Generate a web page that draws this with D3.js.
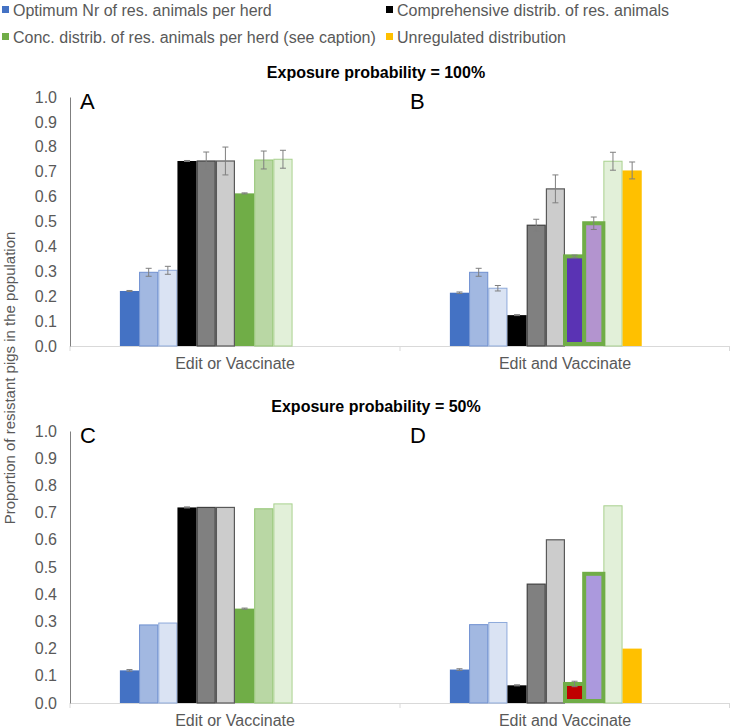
<!DOCTYPE html>
<html><head><meta charset="utf-8">
<script src="https://cdn.jsdelivr.net/npm/d3@7"></script>
<style>
body{margin:0;background:#fff}
svg{display:block}
text{font-family:"Liberation Sans",Arial,sans-serif}
</style>
</head><body>
<svg id="chart" width="730" height="728"></svg>
<script>
// ---------------- DATA ----------------
const categories = ["Edit or Vaccinate", "Edit and Vaccinate"];
const exposureTitles = ["Exposure probability = 100%", "Exposure probability = 50%"];
const panelLetters = ["A", "B", "C", "D"];
const yTickValues = [0, 0.1, 0.2, 0.3, 0.4, 0.5, 0.6, 0.7, 0.8, 0.9, 1.0];
const yTitle = "Proportion of resistant pigs in the population";

const legendLabels = [
  "Optimum Nr of res. animals per herd",
  "Comprehensive distrib. of res. animals",
  "Conc. distrib. of res. animals per herd (see caption)",
  "Unregulated distribution"
];
const legendColors = ["#4472c4", "#000000", "#70ad47", "#ffc000"];

// bar styles per slot (slot order within a category)
const slotsEditOr       = ["blue", "lblue", "llblue", "black", "gray", "lgray", "green", "lgreen", "llgreen"];
const slotsEditAnd100   = ["blue", "lblue", "llblue", "black", "gray", "lgray", "purple", "lavender", "llgreen", "yellow"];
const slotsEditAnd50    = ["blue", "lblue", "llblue", "black", "gray", "lgray", "red", "lavender2", "llgreen", "yellow"];

// Panel A: exposure 100%, Edit or Vaccinate
const valuesA = [0.221, 0.296, 0.304, 0.743, 0.743, 0.743, 0.613, 0.747, 0.750];
const errorsA = [0.002, 0.016, 0.016, 0.002, 0.036, 0.056, 0.002, 0.036, 0.036];
// Panel B: exposure 100%, Edit and Vaccinate
const valuesB = [0.214, 0.296, 0.232, 0.124, 0.485, 0.631, 0.360, 0.493, 0.742, 0.705];
const errorsB = [0.003, 0.016, 0.011, 0.002, 0.024, 0.056, 0.005, 0.025, 0.036, 0.034];
// Panel C: exposure 50%, Edit or Vaccinate
const valuesC = [0.120, 0.287, 0.294, 0.719, 0.719, 0.719, 0.347, 0.714, 0.732];
const errorsC = [0.003, null, null, 0.002, null, null, 0.002, null, null];
// Panel D: exposure 50%, Edit and Vaccinate
const valuesD = [0.123, 0.288, 0.296, 0.065, 0.437, 0.600, 0.070, 0.475, 0.725, 0.200];
const errorsD = [0.003, null, null, 0.002, null, null, 0.010, null, null, null];

const styles = {
  blue:      {fill: "#4472c4", stroke: "none", sw: 0},
  lblue:     {fill: "#a2b8e1", stroke: "#6f90d0", sw: 1},
  llblue:    {fill: "#dae3f3", stroke: "#8eaadb", sw: 1},
  black:     {fill: "#000000", stroke: "none", sw: 0},
  gray:      {fill: "#808080", stroke: "#404040", sw: 1.2},
  lgray:     {fill: "#cccccc", stroke: "#595959", sw: 1.2},
  green:     {fill: "#70ad47", stroke: "none", sw: 0},
  lgreen:    {fill: "#b9d7a4", stroke: "#92c472", sw: 1},
  llgreen:   {fill: "#e2f0d9", stroke: "#a9d18e", sw: 1},
  purple:    {fill: "#5a33b4", stroke: "#70ad47", sw: 4},
  lavender:  {fill: "#b394cf", stroke: "#70ad47", sw: 4},
  red:       {fill: "#c00000", stroke: "#70ad47", sw: 4},
  lavender2: {fill: "#ab99dd", stroke: "#70ad47", sw: 4},
  yellow:    {fill: "#ffc000", stroke: "none", sw: 0}
};

// ---------------- LAYOUT ----------------
const svg = d3.select("#chart");
const plotLeft = 70, plotRight = 730;
const rows = [
  {top: 97, base: 346, title: 72, panels: [
    {letter: "A", slots: slotsEditOr, values: valuesA, errors: errorsA},
    {letter: "B", slots: slotsEditAnd100, values: valuesB, errors: errorsB}]},
  {top: 431, base: 703, title: 406, panels: [
    {letter: "C", slots: slotsEditOr, values: valuesC, errors: errorsC},
    {letter: "D", slots: slotsEditAnd50, values: valuesD, errors: errorsD}]}
];

const x = d3.scaleBand(categories, [plotLeft, plotRight]).paddingInner(0).paddingOuter(0);
const xi = d3.scaleBand(d3.range(12), [0, x.bandwidth()]).paddingInner(0).paddingOuter(2.6);

const textCol = "#595959";
const FS = 16;

// legend
const legendPos = [[2, 10], [386, 10], [2, 37], [386, 37]];
legendLabels.forEach((lab, i) => {
  const [lx, ly] = legendPos[i];
  svg.append("rect").attr("x", lx).attr("y", ly - 4).attr("width", 7).attr("height", 7)
    .attr("fill", legendColors[i]);
  svg.append("text").attr("x", lx + 11).attr("y", ly).attr("dy", "0.35em")
    .attr("font-size", FS).attr("fill", textCol).text(lab);
});

rows.forEach((row, ri) => {
  const y = d3.scaleLinear([0, 1], [row.base, row.top]);
  const g = svg.append("g");

  // title
  g.append("text").attr("x", 376).attr("y", row.title).attr("dy", "0.35em")
    .attr("text-anchor", "middle").attr("font-size", FS).attr("font-weight", "bold")
    .attr("fill", "#000").text(exposureTitles[ri]);

  // x axis (category labels)
  const xAxis = g.append("g").attr("transform", `translate(0,${row.base})`)
    .call(d3.axisBottom(x).tickSize(0).tickPadding(12));
  xAxis.select(".domain").attr("stroke", "#d9d9d9").attr("stroke-width", 1);
  xAxis.selectAll("text").attr("font-size", FS).attr("fill", textCol)
    .attr("font-family", "Liberation Sans, Arial, sans-serif");
  // between-category tick marks
  [plotLeft, x(categories[1]), plotRight - 0.5].forEach(tx => {
    g.append("line").attr("x1", tx).attr("x2", tx).attr("y1", row.base).attr("y2", row.base + 5)
      .attr("stroke", "#d9d9d9");
  });

  // y axis
  const yAxis = g.append("g").attr("transform", `translate(${plotLeft},0)`)
    .call(d3.axisLeft(y).tickValues(yTickValues).tickFormat(d3.format(".1f")).tickSize(0).tickPadding(13));
  yAxis.select(".domain").attr("stroke", "#7f7f7f").attr("stroke-width", 1);
  yAxis.selectAll("text").attr("font-size", FS).attr("fill", textCol)
    .attr("font-family", "Liberation Sans, Arial, sans-serif");

  row.panels.forEach((p, pi) => {
    const cx = x(categories[pi]);
    // panel letter
    g.append("text").attr("x", cx + 10).attr("y", row.top + 4).attr("dy", "0.35em")
      .attr("font-size", 22).attr("fill", "#000").text(p.letter);

    const bars = p.values.map((v, i) => ({v, e: p.errors[i], s: styles[p.slots[i]], i}));
    const order = bars.slice().sort((a, b) => (a.s.sw >= 4) - (b.s.sw >= 4));
    g.selectAll(null).data(order).join("rect")
      .attr("x", d => cx + xi(d.i) + (d.s.sw > 0 && d.s.sw < 4 ? d.s.sw / 2 : 0))
      .attr("width", d => xi.bandwidth() - (d.s.sw > 0 && d.s.sw < 4 ? d.s.sw : 0))
      .attr("y", d => y(d.v))
      .attr("height", d => y(0) - y(d.v) - (d.s.sw >= 4 ? d.s.sw / 2 : 0))
      .attr("fill", d => d.s.fill)
      .attr("stroke", d => d.s.stroke)
      .attr("stroke-width", d => d.s.sw);

    // error bars
    const eb = bars.filter(d => d.e != null);
    const ebG = g.selectAll(null).data(eb).join("g")
      .attr("transform", d => `translate(${cx + xi(d.i) + xi.bandwidth() / 2},0)`);
    ebG.append("line").attr("y1", d => y(d.v - d.e)).attr("y2", d => y(d.v + d.e))
      .attr("stroke", "#7f7f7f").attr("stroke-width", 1);
    ebG.append("line").attr("x1", -3).attr("x2", 3).attr("y1", d => y(d.v + d.e)).attr("y2", d => y(d.v + d.e))
      .attr("stroke", "#7f7f7f").attr("stroke-width", 1);
    ebG.append("line").attr("x1", -3).attr("x2", 3).attr("y1", d => y(d.v - d.e)).attr("y2", d => y(d.v - d.e))
      .attr("stroke", "#7f7f7f").attr("stroke-width", 1);
  });
});

// y title
svg.append("text").attr("transform", "translate(10,378) rotate(-90)")
  .attr("text-anchor", "middle").attr("dy", "0.35em")
  .attr("font-size", 15).attr("fill", textCol).text(yTitle);
</script>
</body></html>
